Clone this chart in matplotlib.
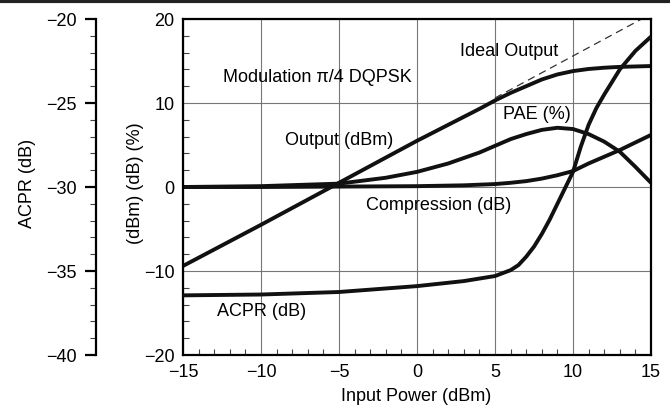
import matplotlib
matplotlib.use("Agg")
import matplotlib.pyplot as plt
from matplotlib.lines import Line2D
from matplotlib.ticker import MultipleLocator

plt.rcParams['font.family'] = ['Liberation Sans', 'DejaVu Sans']

# Input power (dBm)
x_out = [-15, -10, -5, 0, 2, 4, 5, 6, 7, 8, 9, 10, 11, 12, 13, 14, 15]
output_dbm = [-9.4, -4.5, 0.5, 5.5, 7.4, 9.3, 10.3, 11.2, 12.0, 12.8, 13.4, 13.8, 14.05, 14.2, 14.3, 14.35, 14.4]

x_ideal = [5, 15]
ideal_dbm = [10.6, 20.6]

x_pae = [-15, -10, -5, -2, 0, 2, 4, 5, 6, 7, 8, 9, 10, 11, 12, 13, 14, 15]
pae_pct = [0.0, 0.1, 0.4, 1.1, 1.8, 2.8, 4.1, 4.9, 5.7, 6.3, 6.8, 7.05, 6.9, 6.3, 5.4, 4.2, 2.4, 0.5]

x_comp = [-15, -10, -5, 0, 3, 5, 6, 7, 8, 9, 10, 11, 12, 13, 14, 15]
compression_db = [0.0, 0.0, 0.05, 0.1, 0.2, 0.35, 0.5, 0.7, 1.0, 1.4, 1.9, 2.8, 3.6, 4.4, 5.3, 6.2]

x_acpr = [-15, -10, -5, 0, 3, 5, 6, 6.5, 7, 7.5, 8, 8.5, 9, 9.5, 10, 10.5, 11, 11.5, 12, 13, 14, 15]
acpr_db = [-36.45, -36.4, -36.25, -35.9, -35.6, -35.3, -34.95, -34.65, -34.15, -33.55, -32.8,
           -31.95, -31.0, -30.05, -29.1, -27.6, -26.3, -25.3, -24.5, -23.0, -21.9, -21.05]

x_ticks = [-15, -10, -5, 0, 5, 10, 15]
y_ticks = [-20, -10, 0, 10, 20]
acpr_ticks = [-40, -35, -30, -25, -20]

fs = 13

fig = plt.figure(figsize=(6.7, 4.06), dpi=100)
ax = fig.add_axes([183/670, 50/406, 468/670, 336/406])

ax.set_xlim(-15, 15)
ax.set_ylim(-20, 20)
ax.set_xticks(x_ticks)
ax.set_yticks(y_ticks)
ax.set_xticklabels(['\u221215', '\u221210', '\u22125', '0', '5', '10', '15'])
ax.set_yticklabels(['\u221220', '\u221210', '0', '10', '20'])
ax.xaxis.set_minor_locator(MultipleLocator(1))
ax.yaxis.set_minor_locator(MultipleLocator(2))
ax.tick_params(which='major', direction='in', length=0, labelsize=fs, pad=6)
ax.tick_params(which='minor', direction='in', length=4, width=0.8, color='#444444')
ax.grid(True, which='major', color='#777777', lw=0.8)
for s in ax.spines.values():
    s.set_linewidth(1.6)

lw = 2.8
ax.plot(x_out, output_dbm, color='#111111', lw=lw, solid_capstyle='butt')
ax.plot(x_ideal, ideal_dbm, color='#333333', lw=0.9, ls=(0, (6, 4)))
ax.plot(x_pae, pae_pct, color='#111111', lw=lw, solid_capstyle='butt')
ax.plot(x_comp, compression_db, color='#111111', lw=lw, solid_capstyle='butt')

ax.text(-12.44, 13.2, 'Modulation \u03c0/4 DQPSK', fontsize=fs, va='center', ha='left')
ax.text(-8.46, 5.7, 'Output (dBm)', fontsize=fs, va='center', ha='left')
ax.text(2.76, 16.2, 'Ideal Output', fontsize=fs, va='center', ha='left')
ax.text(5.5, 8.7, 'PAE (%)', fontsize=fs, va='center', ha='left')
ax.text(-3.27, -2.14, 'Compression (dB)', fontsize=fs, va='center', ha='left')
ax.text(-12.82, -14.76, 'ACPR (dB)', fontsize=fs, va='center', ha='left')

ax2 = ax.twinx()
ax2.set_ylim(-40, -20)
ax2.plot(x_acpr, acpr_db, color='#111111', lw=lw, solid_capstyle='butt')
for k in ['top', 'bottom', 'right']:
    ax2.spines[k].set_visible(False)
ax2.spines['left'].set_visible(True)
ax2.spines['left'].set_position(('axes', -(183 - 96) / 468))
ax2.spines['left'].set_linewidth(1.6)
ax2.yaxis.set_ticks_position('left')
ax2.set_yticks(acpr_ticks)
ax2.set_yticklabels(['\u221240', '\u221235', '\u221230', '\u221225', '\u221220'])
ax2.yaxis.set_minor_locator(MultipleLocator(1))
ax2.tick_params(which='major', direction='out', length=8, width=1.6, labelsize=fs, pad=6)
ax2.tick_params(which='minor', direction='out', length=4, width=0.8, color='#444444')

# axis titles
fig.text(416/670, 1 - 397/406, 'Input Power (dBm)', fontsize=fs, ha='center', va='center')
fig.text(135/670, 1 - 183/406, '(dBm) (dB) (%)', fontsize=fs, ha='center', va='center', rotation=90)
fig.text(27/670, 1 - 183/406, 'ACPR (dB)', fontsize=fs, ha='center', va='center', rotation=90)

fig.add_artist(Line2D([0, 1], [0.996, 0.996], lw=3, color='#222222', transform=fig.transFigure))

fig.savefig('out.png', dpi=100)
